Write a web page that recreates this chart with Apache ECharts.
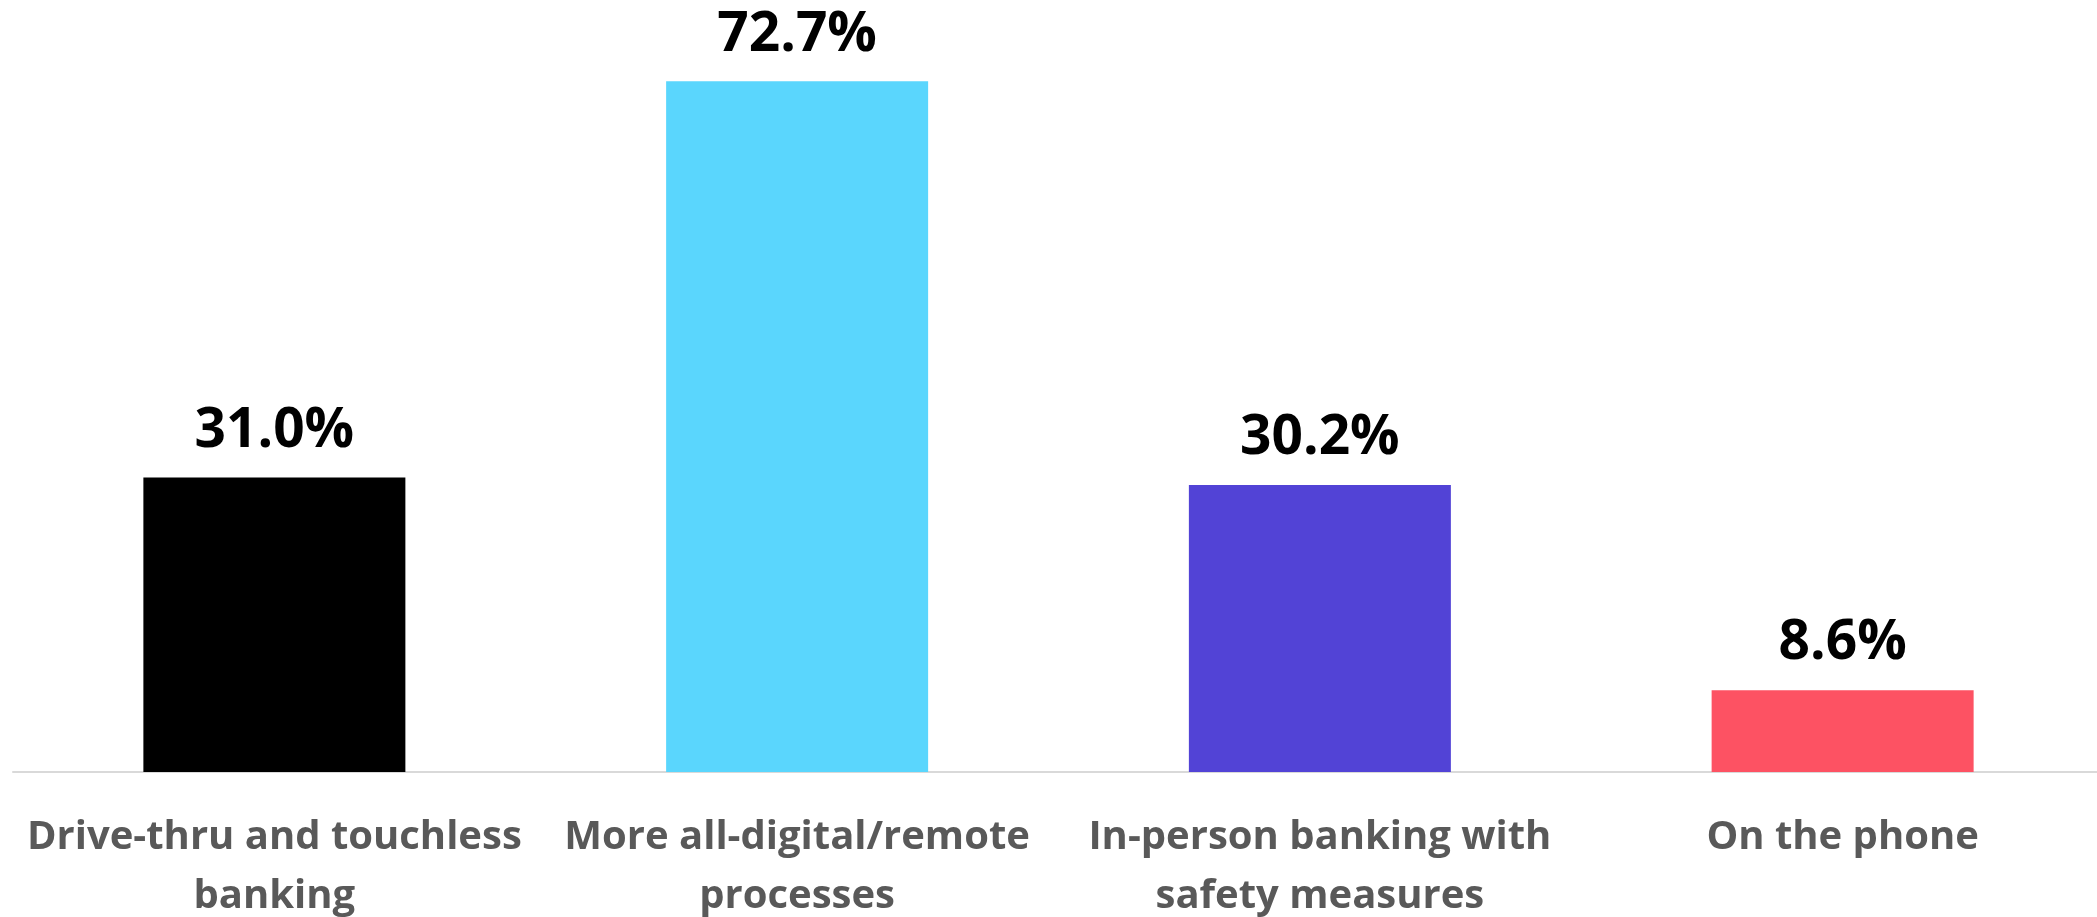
<!DOCTYPE html>
<html>
<head>
<meta charset="utf-8">
<script src="https://cdn.jsdelivr.net/npm/echarts@6/dist/echarts.min.js"></script>
<style>
  html, body { margin: 0; padding: 0; background: #ffffff; }
  #chart { width: 2097px; height: 917px; }
</style>
</head>
<body>
<div id="chart"></div>
<script>
// Preferred banking channels (share of respondents, %)
const categories = [
  'Drive-thru and touchless\nbanking',
  'More all-digital/remote\nprocesses',
  'In-person banking with\nsafety measures',
  'On the phone'
];
const values = [31.0, 72.7, 30.2, 8.6];
const barColors = ['#000000', '#5ad6fd', '#5243d6', '#fd5263'];

const chart = echarts.init(document.getElementById('chart'), null, { renderer: 'canvas' });

chart.setOption({
  animation: false,
  backgroundColor: '#ffffff',
  grid: {
    left: 13, top: 12, bottom: 145, width: 2091,
    containLabel: false,
    outerBoundsMode: 'none'
  },
  xAxis: {
    type: 'category',
    data: categories,
    axisLine: { show: true, lineStyle: { color: '#d9d9d9', width: 2 } },
    axisTick: { show: false },
    axisLabel: {
      interval: 0,
      margin: 36,
      color: '#595959',
      fontFamily: '"Open Sans", sans-serif',
      fontWeight: 'bold',
      fontSize: 40,
      lineHeight: 59,
      align: 'center'
    }
  },
  yAxis: {
    type: 'value',
    min: 0,
    max: 80,
    show: false,
    splitLine: { show: false }
  },
  series: [{
    type: 'bar',
    barWidth: 262,
    data: values.map((v, i) => ({ value: v, itemStyle: { color: barColors[i] } })),
    label: {
      show: true,
      position: 'top',
      distance: 19,
      formatter: p => p.value.toFixed(1) + '%',
      color: '#000000',
      fontFamily: '"Open Sans", sans-serif',
      fontWeight: 'bold',
      fontSize: 55,
      lineHeight: 55
    }
  }]
});
</script>
</body>
</html>
